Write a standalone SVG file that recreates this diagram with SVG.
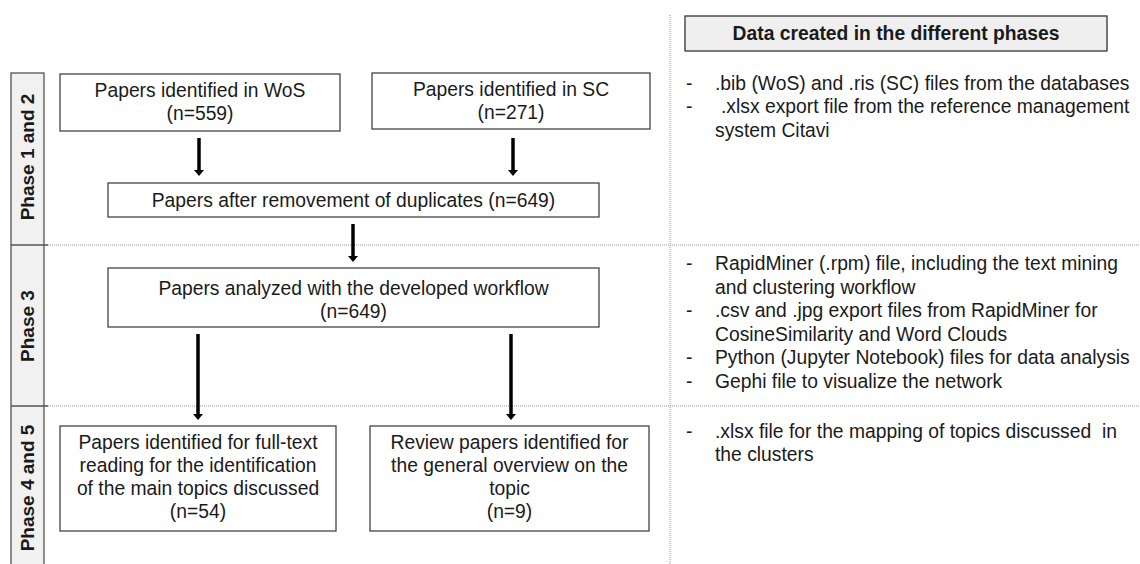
<svg xmlns="http://www.w3.org/2000/svg" width="1140" height="564" viewBox="0 0 1140 564">
<defs>
<style>
text{font-family:"Liberation Sans",Arial,sans-serif;font-size:19.3px;fill:#1a1a1a}
.c{text-anchor:middle}
.b{font-weight:bold}
.box{fill:#fff;stroke:#444;stroke-width:1.3}
.dot{stroke:#999;stroke-width:1;stroke-dasharray:1 1;fill:none}
.arr{stroke:#000;stroke-width:3.5;fill:none;marker-end:url(#ah)}
</style>
<marker id="ah" markerUnits="userSpaceOnUse" viewBox="0 0 6 10" markerWidth="6" markerHeight="10" refX="1" refY="5" orient="auto">
<path d="M0,0 L6,5 L0,10 Z" fill="#000"/>
</marker>
</defs>
<rect width="1140" height="564" fill="#fff"/>

<g id="grid">
<line class="dot" x1="44" y1="245" x2="1140" y2="245"/>
<line class="dot" x1="44" y1="406" x2="1140" y2="406"/>
<line class="dot" x1="670" y1="15" x2="670" y2="564"/>
</g>

<g id="phase-strip">
<rect x="11" y="73" width="33" height="500" fill="#f1f1f1" stroke="#555" stroke-width="1.3"/>
<line x1="11" y1="245" x2="48" y2="245" stroke="#555" stroke-width="1.3"/>
<line x1="11" y1="406" x2="48" y2="406" stroke="#555" stroke-width="1.3"/>
<text class="c b" transform="translate(34 157) rotate(-90)" style="font-size:19px">Phase 1 and 2</text>
<text class="c b" transform="translate(34 326) rotate(-90)" style="font-size:19px">Phase 3</text>
<text class="c b" transform="translate(34 488) rotate(-90)" style="font-size:19px">Phase 4 and 5</text>
</g>

<g id="wos">
<rect class="box" x="60" y="74" width="280" height="57"/>
<text class="c" x="200" y="97">Papers identified in WoS</text>
<text class="c" x="200" y="120">(n=559)</text>
</g>
<g id="sc">
<rect class="box" x="372" y="73" width="278" height="56"/>
<text class="c" x="511" y="96">Papers identified in SC</text>
<text class="c" x="511" y="119">(n=271)</text>
</g>
<g id="dup">
<rect class="box" x="108" y="183" width="491" height="34"/>
<text class="c" x="353.5" y="207">Papers after removement of duplicates (n=649)</text>
</g>
<g id="analyzed">
<rect class="box" x="108" y="268" width="491" height="59"/>
<text class="c" x="353.5" y="295">Papers analyzed with the developed workflow</text>
<text class="c" x="353.5" y="318">(n=649)</text>
</g>
<g id="fulltext">
<rect class="box" x="60" y="426" width="276" height="105"/>
<text class="c" x="198" y="449">Papers identified for full-text</text>
<text class="c" x="198" y="472">reading for the identification</text>
<text class="c" x="198" y="495">of the main topics discussed</text>
<text class="c" x="198" y="518">(n=54)</text>
</g>
<g id="review">
<rect class="box" x="370" y="426" width="279" height="105"/>
<text class="c" x="509.5" y="449">Review papers identified for</text>
<text class="c" x="509.5" y="472">the general overview on the</text>
<text class="c" x="509.5" y="495">topic</text>
<text class="c" x="509.5" y="518">(n=9)</text>
</g>

<g id="connectors">
<line class="arr" x1="199" y1="138" x2="199" y2="171"/>
<line class="arr" x1="513" y1="138" x2="513" y2="171"/>
<line class="arr" x1="353" y1="224" x2="353" y2="257"/>
<line class="arr" x1="198" y1="334" x2="198" y2="415"/>
<line class="arr" x1="511" y1="334" x2="511" y2="415"/>
</g>

<g id="data-header">
<rect x="685" y="16" width="422" height="35" fill="#efefef" stroke="#333" stroke-width="1.3"/>
<text class="c b" x="896" y="40">Data created in the different phases</text>
</g>

<g id="data-phase12">
<text x="686" y="90">-</text><text x="715" y="90">.bib (WoS) and .ris (SC) files from the databases</text>
<text x="686" y="113">-</text><text x="721" y="113">.xlsx export file from the reference management</text>
<text x="715" y="137">system Citavi</text>
</g>
<g id="data-phase3">
<text x="686" y="270">-</text><text x="715" y="270">RapidMiner (.rpm) file, including the text mining</text>
<text x="715" y="293.5">and clustering workflow</text>
<text x="686" y="317">-</text><text x="715" y="317">.csv and .jpg export files from RapidMiner for</text>
<text x="715" y="340.5">CosineSimilarity and Word Clouds</text>
<text x="686" y="364">-</text><text x="715" y="364">Python (Jupyter Notebook) files for data analysis</text>
<text x="686" y="387.5">-</text><text x="715" y="387.5">Gephi file to visualize the network</text>
</g>
<g id="data-phase45">
<text x="686" y="438">-</text><text x="715" y="438" style="white-space:pre">.xlsx file for the mapping of topics discussed  in</text>
<text x="715" y="461">the clusters</text>
</g>
</svg>
